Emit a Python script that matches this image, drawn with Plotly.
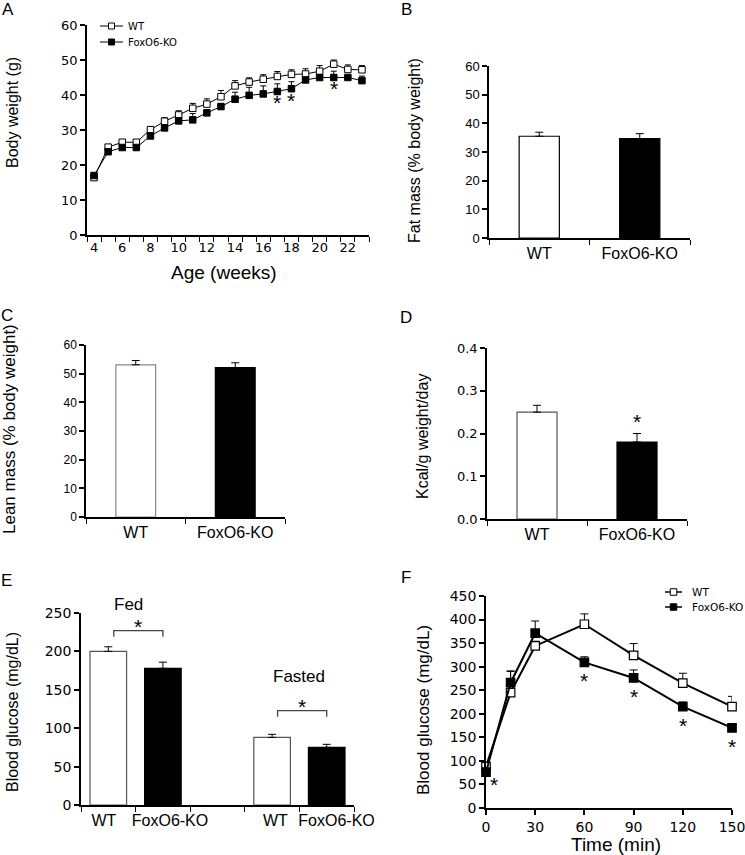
import plotly.graph_objects as go

# ---------------- DATA ----------------
# Panel A: body weight
weeks = list(range(4, 24))
wt_bw = [16.4, 25.1, 26.5, 26.5, 30.1, 32.5, 34.3, 36.2, 37.4, 39.5,
         42.6, 43.7, 44.5, 45.3, 45.9, 46.0, 46.8, 48.8, 47.3, 47.2]
wt_bw_err = [0.5, 0.7, 0.6, 0.7, 0.9, 1.0, 1.2, 1.4, 1.5, 1.8,
             1.5, 1.2, 1.3, 1.4, 1.3, 1.5, 1.6, 1.2, 1.3, 1.2]
ko_bw = [17.0, 23.8, 25.0, 25.0, 28.3, 30.6, 32.6, 32.9, 34.9, 36.7,
         38.8, 39.9, 40.3, 41.0, 41.8, 44.3, 45.0, 45.0, 45.0, 44.1]
ko_bw_err = [0.5, 0.5, 0.5, 0.5, 0.6, 0.7, 0.8, 1.8, 0.8, 0.8,
             2.0, 2.3, 2.3, 2.2, 2.0, 0.5, 0.5, 1.8, 0.5, 1.3]
a_sig_weeks = [17, 18, 21]
a_xticks = [4, 6, 8, 10, 12, 14, 16, 18, 20, 22]

groups = ["WT", "FoxO6-KO"]
# Panel B: fat mass
fat_mass = [35.5, 34.7]
fat_mass_err = [1.4, 1.7]
# Panel C: lean mass
lean_mass = [53.1, 52.1]
lean_mass_err = [1.5, 1.7]
# Panel D: energy expenditure
kcal = [0.25, 0.18]
kcal_err = [0.016, 0.02]
d_sig = [False, True]

# Panel E: blood glucose fed / fasted
e_labels = ["WT", "FoxO6-KO", "WT", "FoxO6-KO"]
e_conditions = ["Fed", "Fasted"]
e_wt = [200, 88]
e_wt_err = [6, 4]
e_ko = [178, 75]
e_ko_err = [8, 4]
e_bracket_y = [227, 123]

# Panel F: glucose tolerance
time_min = [0, 15, 30, 60, 90, 120, 150]
wt_gtt = [88, 245, 344, 390, 324, 265, 215]
wt_gtt_err = [7, 45, 10, 22, 25, 21, 22]
ko_gtt = [76, 266, 371, 309, 276, 215, 170]
ko_gtt_err = [5, 25, 26, 12, 17, 10, 6]
f_sig_times = [0, 60, 90, 120, 150]

series_names = ["WT", "FoxO6-KO"]

# ---------------- LAYOUT HELPERS ----------------
W, H = 745, 855
ARIAL = "Liberation Sans, Arial, sans-serif"
VERD = "DejaVu Sans, Verdana, sans-serif"


def xd(x0, x1):
    return [x0 / W, x1 / W]


def yd(ytop, ybot):
    return [1 - ybot / H, 1 - ytop / H]


def px(x):
    return x / W


def py(y):
    return 1 - y / H


fig = go.Figure()

axis_common = dict(showline=True, linecolor="black", linewidth=1.5,
                   showgrid=False, zeroline=False, ticks="outside",
                   ticklen=5, tickwidth=1.5, tickcolor="black",
                   ticklabeloverflow="allow")
annotations = []
shapes = []
STAR = dict(family=ARIAL, size=21, color="black")

# ---------------- PANEL A ----------------
for vals, errs, fill in [(wt_bw, wt_bw_err, "white"), (ko_bw, ko_bw_err, "black")]:
    fig.add_trace(go.Scatter(
        x=weeks, y=vals, mode="lines+markers",
        line=dict(color="black", width=1),
        marker=dict(symbol="square", size=6.5, color=fill,
                    line=dict(color="black", width=1)),
        error_y=dict(type="data", array=errs, symmetric=False,
                     arrayminus=[0] * len(vals), color="black", thickness=1, width=3),
        xaxis="x", yaxis="y", showlegend=False))

for wk in a_sig_weeks:
    i = weeks.index(wk)
    annotations.append(dict(x=wk, y=ko_bw[i], xref="x", yref="y", text="*",
                            showarrow=False, yanchor="top", yshift=2, font=STAR))

# ---------------- PANELS B, C, D ----------------
def bar_panel(vals, errs, xa, ya, wt_line="black"):
    fig.add_trace(go.Bar(
        x=[0, 1], y=vals, width=0.4,
        marker=dict(color=["white", "black"],
                    line=dict(color=[wt_line, "black"], width=1.2)),
        error_y=dict(type="data", array=errs, symmetric=False,
                     arrayminus=[0, 0], color="black", thickness=1, width=4),
        xaxis=xa, yaxis=ya, showlegend=False))


bar_panel(fat_mass, fat_mass_err, "x2", "y2")
bar_panel(lean_mass, lean_mass_err, "x3", "y3", wt_line="#888888")
bar_panel(kcal, kcal_err, "x4", "y4", wt_line="#555555")
for i, s in enumerate(d_sig):
    if s:
        annotations.append(dict(x=i, y=kcal[i] + kcal_err[i], xref="x4", yref="y4",
                                text="*", showarrow=False, yanchor="bottom", yshift=-2,
                                font=STAR))

# ---------------- PANEL E ----------------
e_x_wt = [0, 3]
e_x_ko = [1, 4]
fig.add_trace(go.Bar(
    x=e_x_wt, y=e_wt, width=0.67,
    marker=dict(color="white", line=dict(color="#555555", width=1.2)),
    error_y=dict(type="data", array=e_wt_err, symmetric=False,
                 arrayminus=[0, 0], color="black", thickness=1, width=4),
    xaxis="x5", yaxis="y5", showlegend=False))
fig.add_trace(go.Bar(
    x=e_x_ko, y=e_ko, width=0.67,
    marker=dict(color="black", line=dict(color="black", width=1.2)),
    error_y=dict(type="data", array=e_ko_err, symmetric=False,
                 arrayminus=[0, 0], color="black", thickness=1, width=4),
    xaxis="x5", yaxis="y5", showlegend=False))

for k in range(2):
    xl, xr, yb = e_x_wt[k] + 0.1, e_x_ko[k], e_bracket_y[k]
    leg = 8
    shapes.append(dict(type="path", xref="x5", yref="y5",
                       path=f"M {xl},{yb - leg} L {xl},{yb} L {xr},{yb} L {xr},{yb - leg}",
                       line=dict(color="#444444", width=1.3)))
    annotations.append(dict(x=(xl + xr) / 2, y=yb, xref="x5", yref="y5", text="*",
                            showarrow=False, yanchor="bottom", yshift=-9, font=STAR))

# ---------------- PANEL F ----------------
for vals, errs, fill in [(wt_gtt, wt_gtt_err, "white"), (ko_gtt, ko_gtt_err, "black")]:
    fig.add_trace(go.Scatter(
        x=time_min, y=vals, mode="lines+markers",
        line=dict(color="black", width=2),
        marker=dict(symbol="square", size=8.5, color=fill,
                    line=dict(color="black", width=1.2)),
        error_y=dict(type="data", array=errs, symmetric=False,
                     arrayminus=[0] * len(vals), color="black", thickness=1, width=4),
        xaxis="x6", yaxis="y6", showlegend=False, cliponaxis=False))
for t in f_sig_times:
    i = time_min.index(t)
    annotations.append(dict(x=t, y=ko_gtt[i], xref="x6", yref="y6", text="*",
                            showarrow=False, yanchor="top",
                            yshift=1 if t == 0 else -5,
                            xshift=8 if t == 0 else 0, font=STAR))

# ---------------- TEXT HELPERS ----------------
def ptext(x, y, text, size, family=ARIAL, angle=0, xanchor="center"):
    annotations.append(dict(x=px(x), y=py(y), xref="paper", yref="paper",
                            text=text, showarrow=False, textangle=angle,
                            xanchor=xanchor, yanchor="middle",
                            font=dict(family=family, size=size, color="black")))


# manual legends (A and F)
def legend_block(x0, x1, y_rows, msize, lw, text_x, fsize):
    for (yrow, name, fill) in zip(y_rows, series_names, ["white", "black"]):
        shapes.append(dict(type="line", xref="paper", yref="paper",
                           x0=px(x0), x1=px(x1), y0=py(yrow), y1=py(yrow),
                           line=dict(color="black", width=lw)))
        xm = (x0 + x1) / 2
        shapes.append(dict(type="rect", xref="paper", yref="paper",
                           x0=px(xm - msize / 2), x1=px(xm + msize / 2),
                           y0=py(yrow + msize / 2), y1=py(yrow - msize / 2),
                           fillcolor=fill, line=dict(color="black", width=1)))
        ptext(text_x, yrow, name, fsize, family=VERD, xanchor="left")


legend_block(100, 123, [26, 42], 6, 1, 126, 10)
legend_block(665, 682, [592, 607], 6.5, 1.5, 690, 10.5)

# condition labels in E
ptext(128, 604, e_conditions[0], 17)
ptext(299, 676, e_conditions[1], 17)

# axis titles
ptext(12, 113, "Body weight (g)", 16, angle=-90)
ptext(224, 272, "Age (weeks)", 19)
ptext(415, 151, "Fat mass (% body weight)", 16, angle=-90)
ptext(9, 429, "Lean mass (% body weight)", 17, angle=-90)
ptext(423, 437, "Kcal/g weight/day", 16, angle=-90)
ptext(12, 712, "Blood glucose (mg/dL)", 16, angle=-90)
ptext(423, 710, "Blood glucose (mg/dL)", 17, angle=-90)
ptext(616, 844, "Time (min)", 19)

for letter, (lx, ly) in {"A": (8, 9), "B": (406, 9), "C": (7, 315),
                         "D": (406, 317), "E": (6, 580), "F": (406, 577)}.items():
    ptext(lx, ly, letter, 17)

# ---------------- AXES ----------------
cat_font = dict(family=ARIAL, size=16, color="black")
minor_cat = dict(ticks="outside", tick0=-0.5, dtick=1, ticklen=5,
                 tickwidth=1.2, tickcolor="black")
no_major = {**axis_common, "ticks": ""}
layout_axes = dict(
    xaxis=dict(**no_major, domain=xd(87, 369), anchor="y",
               range=[3.5, 23.5], tickvals=a_xticks,
               tickfont=dict(family=VERD, size=13, color="black"),
               minor=dict(ticks="outside", tick0=3.5, dtick=1, ticklen=5,
                          tickwidth=1.2, tickcolor="black")),
    yaxis=dict(**axis_common, domain=yd(25, 235), anchor="x", range=[0, 60],
               dtick=10, tickfont=dict(family=VERD, size=13, color="black")),
    xaxis2=dict(**no_major, domain=xd(489, 690), anchor="y2",
                range=[-0.5, 1.5], tickvals=[0, 1], ticktext=groups, tickfont=cat_font,
                minor=minor_cat),
    yaxis2=dict(**axis_common, domain=yd(66, 238), anchor="x2", range=[0, 60],
                dtick=10, tickfont=dict(family=ARIAL, size=13, color="black")),
    xaxis3=dict(**no_major, domain=xd(86, 285), anchor="y3",
                range=[-0.5, 1.5], tickvals=[0, 1], ticktext=groups, tickfont=cat_font,
                minor=minor_cat),
    yaxis3=dict(**axis_common, domain=yd(345, 517), anchor="x3", range=[0, 60],
                dtick=10, tickfont=dict(family=ARIAL, size=12, color="black")),
    xaxis4=dict(**no_major, domain=xd(487, 687), anchor="y4",
                range=[-0.5, 1.5], tickvals=[0, 1], ticktext=groups, tickfont=cat_font,
                minor=minor_cat),
    yaxis4=dict(**axis_common, domain=yd(348, 519), anchor="x4", range=[0, 0.4],
                dtick=0.1, tickformat=".1f",
                tickfont=dict(family=VERD, size=13, color="black")),
    xaxis5=dict(**no_major, domain=xd(81, 354), anchor="y5",
                range=[-0.5, 4.5], tickvals=[-0.08, 1.13, 3.06, 4.18],
                ticktext=e_labels, tickfont=cat_font, minor=minor_cat),
    yaxis5=dict(**axis_common, domain=yd(613, 805), anchor="x5", range=[0, 250],
                dtick=50, tickfont=dict(family=VERD, size=14, color="black")),
    xaxis6=dict(**axis_common, domain=xd(486, 732), anchor="y6", range=[0, 150],
                dtick=30, tickfont=dict(family=VERD, size=14, color="black")),
    yaxis6=dict(**axis_common, domain=yd(596, 808), anchor="x6", range=[0, 450],
                dtick=50, tickfont=dict(family=VERD, size=14, color="black")),
)

fig.update_layout(
    width=W, height=H,
    margin=dict(l=0, r=0, t=0, b=0, autoexpand=False),
    paper_bgcolor="white", plot_bgcolor="white",
    showlegend=False, barmode="overlay",
    annotations=annotations, shapes=shapes,
    **layout_axes,
)

fig.write_html("out.html",
               config={"displayModeBar": False},
               post_script="document.body.style.margin='0';"
                           "document.body.style.overflow='hidden';")
